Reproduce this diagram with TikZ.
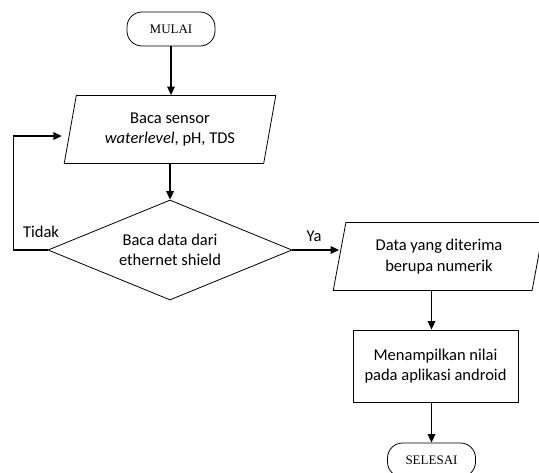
\documentclass[tikz,border=0pt]{standalone}
\usepackage{fontspec}
\setmainfont{Carlito}
\newfontfamily\termfont{Liberation Serif}
\usetikzlibrary{shapes.geometric,arrows.meta}

\begin{document}
\begin{tikzpicture}[x=1pt, y=-1pt,
  every node/.style={font=\fontsize{16.5}{20.5}\selectfont, align=center},
  terminal/.style={draw, line width=0.8pt, rounded corners=15pt, minimum width=88pt, minimum height=34pt, font=\termfont\fontsize{13}{15}\selectfont},
  io/.style={draw, line width=0.8pt, trapezium, trapezium left angle=76, trapezium right angle=104, trapezium stretches=true, minimum width=212pt, minimum height=68pt, inner sep=0pt},
  decision/.style={draw, line width=0.8pt, diamond, aspect=2.44, minimum width=244pt, minimum height=100pt, inner sep=0pt},
  process/.style={draw, line width=0.8pt, rectangle, minimum width=165pt, minimum height=72pt},
  flow/.style={line width=1.7pt, -{Triangle[length=8.5pt,width=7.5pt]}}]
  \useasboundingbox (0,0) rectangle (539,472);
  \node[terminal] (mulai) at (171,29) {MULAI};
  \node[io] (baca) at (170,129.5) {Baca sensor\\\textit{waterlevel}, pH, TDS};
  \node[decision] (cek) at (170,250) {Baca data dari\\ethernet shield};
  \node[io] (data) at (439,256.5) {Data yang diterima\\berupa numerik};
  \node[process] (tampil) at (435.5,366) {Menampilkan nilai\\pada aplikasi android};
  \node[terminal] (selesai) at (431.5,460) {SELESAI};
  \node (tidak) at (41,232) {Tidak};
  \node (ya) at (314,236) {Ya};
  \draw[flow] (mulai.south) -- (mulai.south |- baca.north);
  \draw[flow] (baca.south) -- (cek.north);
  \draw[flow] (cek.east) -- (cek.east -| data.west);
  \draw[flow, shorten >=8pt] (cek.west) -- ++(-34,0) |- ([yshift=-6.5pt]baca.west);
  \draw[flow] (selesai.north |- data.south) -- (selesai.north |- tampil.north);
  \draw[flow] (selesai.north |- tampil.south) -- (selesai.north);
\end{tikzpicture}
\end{document}
